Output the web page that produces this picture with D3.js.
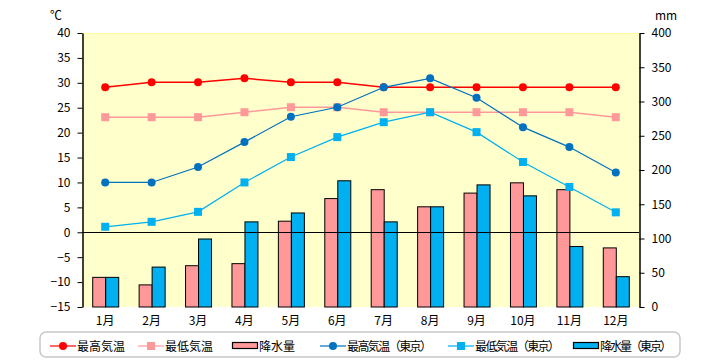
<!DOCTYPE html>
<html><head><meta charset="utf-8">
<script src="https://cdn.jsdelivr.net/npm/d3@7"></script>
<style>
body{margin:0;background:#fff;}
text{font-family:"Noto Sans CJK JP","DejaVu Sans",sans-serif;}
</style></head>
<body><svg id="c" width="720" height="360"></svg>
<script>
const months = ["1月","2月","3月","4月","5月","6月","7月","8月","9月","10月","11月","12月"];
const maxTemp = [29.1,30.1,30.1,30.9,30.1,30.1,29.1,29.1,29.1,29.1,29.1,29.1];
const minTemp = [23.1,23.1,23.1,24.1,25.1,25.1,24.1,24.1,24.1,24.1,24.1,23.1];
const precip = [44,33,61,64,126,159,172,147,167,182,172,87];
const maxTempTokyo = [10.0,10.0,13.1,18.1,23.2,25.1,29.1,30.9,27.0,21.1,17.1,12.0];
const minTempTokyo = [1.1,2.1,4.1,10.0,15.1,19.1,22.1,24.1,20.1,14.1,9.1,4.0];
const precipTokyo = [44,59,100,125,138,185,125,147,179,163,89,45];
const leftTicks = [40,35,30,25,20,15,10,5,0,-5,-10,-15];
const rightTicks = [400,350,300,250,200,150,100,50,0];

const svg = d3.select("#c");
const L=82, R=639, T=33, B=307;
const x = d3.scaleBand().domain(months).range([L,R]);
const yT = d3.scaleLinear().domain([-15,40]).range([B,T]);
const yP = d3.scaleLinear().domain([0,400]).range([B,T]);

svg.append("rect").attr("x",L).attr("y",T).attr("width",R-L).attr("height",B-T).attr("fill","#ffffcc");
svg.append("line").attr("x1",L).attr("x2",R).attr("y1",T+0.5).attr("y2",T+0.5).attr("stroke","#ffff99");

// bars
const bw = 13;
const g = svg.append("g");
months.forEach((m,i)=>{
  const cx = x(m)+x.bandwidth()/2;
  g.append("rect").attr("x",cx-bw+0.5).attr("y",yP(precip[i])+0.5).attr("width",bw).attr("height",B-yP(precip[i])-0.5)
   .attr("fill","#ff9999").attr("stroke","#000").attr("stroke-width",1);
  g.append("rect").attr("x",cx+0.5).attr("y",yP(precipTokyo[i])+0.5).attr("width",bw).attr("height",B-yP(precipTokyo[i])-0.5)
   .attr("fill","#00b0f0").attr("stroke","#000").attr("stroke-width",1);
});

// zero line
svg.append("line").attr("x1",L).attr("x2",R).attr("y1",Math.round(yT(0))+0.5).attr("y2",Math.round(yT(0))+0.5).attr("stroke","#000").attr("stroke-width",1.2);

// axes
const axL = svg.append("g").attr("transform",`translate(${L+0.5},0)`).call(d3.axisLeft(yT).tickValues(leftTicks).tickSize(5).tickSizeOuter(0).tickFormat(d=>d<0?"−"+(-d):d));
const axR = svg.append("g").attr("transform",`translate(${R+0.5},0)`).call(d3.axisRight(yP).tickValues(rightTicks).tickSize(5).tickSizeOuter(0));
[axL,axR].forEach(a=>{
  a.select(".domain").attr("stroke","#000").attr("stroke-width",1.5);
  a.selectAll(".tick line").attr("stroke","#000");
  a.selectAll("text").attr("font-size",12).attr("fill","#000");
});
axL.selectAll("text").attr("x",-12);
axR.selectAll("text").attr("x",12);

// x labels
svg.append("g").selectAll("text").data(months).join("text")
 .attr("x",d=>x(d)+x.bandwidth()/2).attr("y",325).attr("text-anchor","middle").attr("font-size",12).text(d=>d);

svg.append("text").attr("x",50).attr("y",20).attr("font-size",12).text("℃");
svg.append("text").attr("x",655).attr("y",20).attr("font-size",12).text("mm");

// lines
function series(data,color,width,marker,size){
  const line = d3.line().x((d,i)=>x(months[i])+x.bandwidth()/2).y(d=>yT(d));
  svg.append("path").attr("d",line(data)).attr("fill","none").attr("stroke",color).attr("stroke-width",width);
  data.forEach((d,i)=>{
    const cx=x(months[i])+x.bandwidth()/2, cy=yT(d);
    if(marker==="circle") svg.append("circle").attr("cx",cx).attr("cy",cy).attr("r",size).attr("fill",color);
    else svg.append("rect").attr("x",cx-size).attr("y",cy-size).attr("width",size*2).attr("height",size*2).attr("fill",color);
  });
}
series(maxTemp,"#ff0000",1.5,"circle",4);
series(minTemp,"#ff9999",1.5,"square",4);
series(maxTempTokyo,"#0070c0",1.2,"circle",4);
series(minTempTokyo,"#00b0f0",1.2,"square",4);

// legend
svg.append("rect").attr("x",40).attr("y",332).attr("width",640).attr("height",25).attr("rx",6)
 .attr("fill","#fff").attr("stroke","#c8c8c8").attr("stroke-width",1.5);
const ly=346;
const leg = [
 {t:"最高気温",c:"#ff0000",k:"circle",x0:50,w:0},
 {t:"最低気温",c:"#ff9999",k:"square",x0:138,w:0},
 {t:"降水量",c:"#ff9999",k:"bar",x0:232,w:0},
 {t:"最高気温（東京）",c:"#0070c0",k:"circle",x0:320,w:85},
 {t:"最低気温（東京）",c:"#00b0f0",k:"square",x0:448,w:85},
 {t:"降水量（東京）",c:"#00b0f0",k:"bar",x0:573,w:72}
];
leg.forEach(d=>{
  if(d.k==="bar"){
    svg.append("rect").attr("x",d.x0+0.5).attr("y",ly-3.5).attr("width",25).attr("height",6).attr("fill",d.c).attr("stroke","#000").attr("stroke-width",1.2);
  } else {
    svg.append("line").attr("x1",d.x0).attr("x2",d.x0+26).attr("y1",ly).attr("y2",ly).attr("stroke",d.c).attr("stroke-width",1.2);
    if(d.k==="circle") svg.append("circle").attr("cx",d.x0+13).attr("cy",ly).attr("r",4).attr("fill",d.c);
    else svg.append("rect").attr("x",d.x0+9).attr("y",ly-4).attr("width",8).attr("height",8).attr("fill",d.c);
  }
  const t = svg.append("text").attr("x",d.x0+27).attr("y",ly+4.5).attr("font-size",12).text(d.t);
  if(d.w) t.attr("textLength",d.w).attr("lengthAdjust","spacing");
});
</script></body></html>
